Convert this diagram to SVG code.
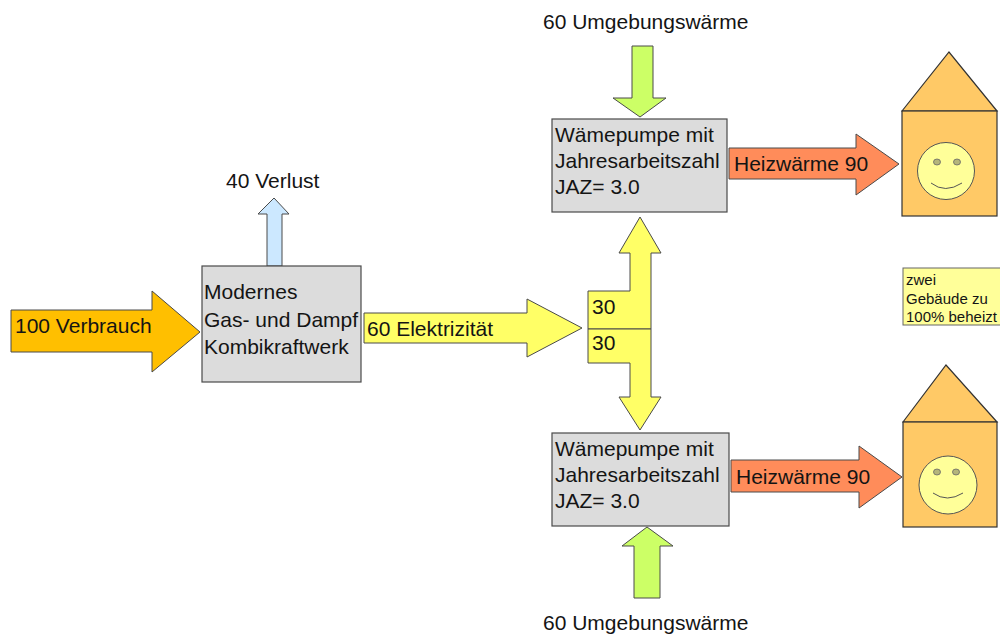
<svg xmlns="http://www.w3.org/2000/svg" width="1000" height="635" viewBox="0 0 1000 635">
<style>
text{font-family:"Liberation Sans",Arial,sans-serif;font-size:21px;fill:#141414}
.box{fill:#dcdcdc;stroke:#4a4a4a;stroke-width:1.2}
.arr{stroke:#4a4a4a;stroke-width:1}
.house{fill:#ffc966;stroke:#333;stroke-width:1.2}
.face{fill:#ffff99;stroke:#555;stroke-width:1}
.eye{fill:#b5b57a;stroke:#666;stroke-width:0.8}
.note{font-size:15px}
</style>
<rect width="1000" height="635" fill="#ffffff"/>
<g id="connectors">
  <g id="in-verbrauch">
    <path class="arr" d="M11,310 H152 V291 L200,332 L152,372 V352 H11 Z" fill="#ffbf00"/>
    <text x="15" y="333">100 Verbrauch</text>
  </g>
  <g id="out-verlust">
    <path class="arr" d="M267,266 V214 H258 L274,198 L289,214 H282 V266 Z" fill="#cce8ff"/>
    <text x="226" y="188">40 Verlust</text>
  </g>
  <g id="elektrizitaet">
    <path class="arr" d="M364,313 H527 V299 L582,328 L527,357 V343 H364 Z" fill="#ffff66"/>
    <text x="367" y="336">60 Elektrizität</text>
  </g>
  <g id="split-top">
    <path class="arr" d="M588,329 V291 H630 V253 H619 L640,217 L661,253 H651 V329 Z" fill="#ffff66"/>
    <text x="592" y="314">30</text>
  </g>
  <g id="split-bottom">
    <path class="arr" d="M588,329 V363 H630 V397 H619 L640,430 L661,397 H651 V329 Z" fill="#ffff66"/>
    <text x="592" y="350">30</text>
  </g>
  <g id="umgebung-top">
    <path class="arr" d="M632,46 H653 V98 H666 L640,117 L613,98 H632 Z" fill="#ccff66"/>
    <text x="543" y="29">60 Umgebungswärme</text>
  </g>
  <g id="umgebung-bottom">
    <path class="arr" d="M634,598 V546 H622 L647,527 L673,546 H660 V598 Z" fill="#ccff66"/>
    <text x="543" y="630">60 Umgebungswärme</text>
  </g>
  <g id="heiz-top">
    <path class="arr" d="M729,148 H856 V134 L899,164 L856,195 V179 H729 Z" fill="#ff8c5a"/>
    <text x="734" y="171">Heizwärme 90</text>
  </g>
  <g id="heiz-bottom">
    <path class="arr" d="M731,460 H859 V446 L902,477 L859,508 V492 H731 Z" fill="#ff8c5a"/>
    <text x="736" y="484">Heizwärme 90</text>
  </g>
</g>
<g id="kraftwerk">
  <rect class="box" x="202" y="266" width="159" height="116"/>
  <text x="204" y="299">Modernes</text>
  <text x="204" y="327">Gas- und Dampf</text>
  <text x="204" y="354">Kombikraftwerk</text>
</g>
<g id="waermepumpe-top">
  <rect class="box" x="552" y="119" width="175" height="93"/>
  <text x="555" y="142">Wämepumpe mit</text>
  <text x="555" y="168">Jahresarbeitszahl</text>
  <text x="555" y="194">JAZ= 3.0</text>
</g>
<g id="waermepumpe-bottom">
  <rect class="box" x="552" y="433" width="177" height="93"/>
  <text x="555" y="456">Wämepumpe mit</text>
  <text x="555" y="482">Jahresarbeitszahl</text>
  <text x="555" y="508">JAZ= 3.0</text>
</g>
<g id="house-top">
  <path class="house" d="M902,111 L949,52 L997,111 Z"/>
  <rect class="house" x="902" y="111" width="95" height="105"/>
  <circle class="face" cx="946" cy="171" r="28.5"/>
  <ellipse class="eye" cx="937" cy="162" rx="3.5" ry="3"/>
  <ellipse class="eye" cx="957" cy="162" rx="3.5" ry="3"/>
  <path d="M931,183 Q945,194 962,183" fill="none" stroke="#555" stroke-width="1"/>
</g>
<g id="house-bottom">
  <path class="house" d="M903,422 L946,365 L997,422 Z"/>
  <rect class="house" x="903" y="422" width="94" height="105"/>
  <circle class="face" cx="948" cy="485" r="29"/>
  <ellipse class="eye" cx="937" cy="472" rx="3.5" ry="3"/>
  <ellipse class="eye" cx="956" cy="472" rx="3.5" ry="3"/>
  <path d="M933,493 Q947,503 963,493" fill="none" stroke="#555" stroke-width="1"/>
</g>
<g id="note">
  <rect x="903" y="268" width="100" height="57" fill="#ffff99" stroke="#666" stroke-width="1"/>
  <text class="note" x="906" y="285">zwei</text>
  <text class="note" x="906" y="304">Gebäude zu</text>
  <text class="note" x="906" y="322">100% beheizt</text>
</g>
</svg>
